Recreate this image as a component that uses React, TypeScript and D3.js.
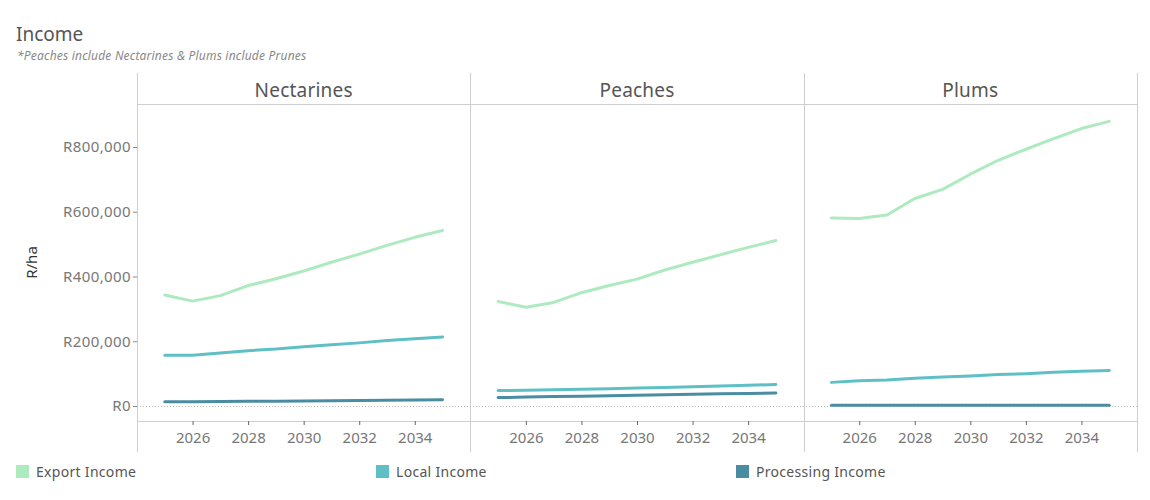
import React, { useEffect, useRef } from 'react';
import * as d3 from 'd3';

const years = [2025, 2026, 2027, 2028, 2029, 2030, 2031, 2032, 2033, 2034, 2035];
const fruits = ['Nectarines', 'Peaches', 'Plums'];
const seriesNames = ['Export Income', 'Local Income', 'Processing Income'];
const seriesColors = ['#aeeac0', '#5ec0c4', '#4a8ca2'];

const nectarinesExport = [343000, 324000, 341000, 372000, 393000, 417000, 444000, 469000, 496000, 521000, 542000];
const nectarinesLocal = [157000, 157000, 164000, 171000, 176000, 183000, 189000, 195000, 202000, 208000, 213000];
const nectarinesProcessing = [13000, 13500, 14000, 14500, 15000, 15800, 16500, 17200, 18000, 18800, 19600];

const peachesExport = [323000, 305000, 320000, 350000, 372000, 392000, 420000, 444000, 467000, 490000, 511000];
const peachesLocal = [48000, 48500, 50500, 52000, 53500, 55500, 57500, 59500, 61500, 64000, 66500];
const peachesProcessing = [26000, 27500, 29000, 30500, 32000, 33500, 35000, 36500, 38000, 39000, 40000];

const plumsExport = [581000, 579000, 590000, 641000, 669000, 716000, 759000, 793000, 826000, 857000, 879000];
const plumsLocal = [73000, 78000, 80000, 85500, 89500, 92500, 97000, 100000, 104000, 107000, 110000];
const plumsProcessing = [2000, 2000, 2000, 2000, 2000, 2000, 2000, 2000, 2000, 2000, 2000];

const panelData = [
  [nectarinesExport, nectarinesLocal, nectarinesProcessing],
  [peachesExport, peachesLocal, peachesProcessing],
  [plumsExport, plumsLocal, plumsProcessing],
];

const yTicks = [0, 200000, 400000, 600000, 800000];
const xTicks = [2026, 2028, 2030, 2032, 2034];

const FONT = '"Noto Sans", "Open Sans", sans-serif';

export default function App() {
  const svgRef = useRef<SVGSVGElement>(null);
  const width = 1150;
  const height = 500;

  useEffect(() => {
    if (!svgRef.current) return;
    const svg = d3.select(svgRef.current);
    svg.selectAll('*').remove();

    const left = 137;
    const right = 1137;
    const headerTop = 73;
    const plotTop = 104;
    const plotBottom = 421;
    const axisBottom = 452;
    const panelW = (right - left) / fruits.length;

    const y = d3.scaleLinear().domain([-46300, 932800]).range([plotBottom, plotTop]);

    // Title
    svg.append('text')
      .attr('x', 16).attr('y', 41)
      .attr('font-family', FONT).attr('font-size', 19)
      .attr('fill', '#555')
      .text('Income');
    svg.append('text')
      .attr('x', 17).attr('y', 60)
      .attr('font-family', FONT).attr('font-size', 12)
      .attr('font-style', 'italic')
      .attr('letter-spacing', 0.2)
      .attr('fill', '#888')
      .text('*Peaches include Nectarines & Plums include Prunes');

    // Frame lines
    const frame = svg.append('g').attr('stroke', '#cfcfcf').attr('stroke-width', 1);
    frame.append('line')
      .attr('x1', left).attr('x2', right)
      .attr('y1', plotTop + 0.5).attr('y2', plotTop + 0.5);
    frame.append('line')
      .attr('x1', left).attr('x2', right)
      .attr('y1', plotBottom + 0.5).attr('y2', plotBottom + 0.5);
    d3.range(fruits.length + 1).forEach(i => {
      const x = Math.round(left + i * panelW) + 0.5;
      frame.append('line')
        .attr('x1', x).attr('x2', x)
        .attr('y1', headerTop).attr('y2', axisBottom);
    });

    // Zero line
    svg.append('line')
      .attr('x1', left).attr('x2', right)
      .attr('y1', Math.round(y(0)) + 0.5).attr('y2', Math.round(y(0)) + 0.5)
      .attr('stroke', '#bbb')
      .attr('stroke-width', 1)
      .attr('stroke-dasharray', '1,2');

    // Y axis
    const yAxis = svg.append('g')
      .attr('transform', `translate(${left},0)`)
      .call(
        d3.axisLeft(y)
          .tickValues(yTicks)
          .tickSize(4)
          .tickPadding(2)
          .tickFormat(d => 'R' + d3.format(',')(d as number))
      );
    yAxis.select('.domain').remove();
    yAxis.selectAll('line').attr('stroke', '#888');
    yAxis.selectAll('text')
      .attr('font-family', FONT).attr('font-size', 15)
      .attr('letter-spacing', 0.4)
      .attr('fill', '#777');

    svg.append('text')
      .attr('transform', `translate(37,${(plotTop + plotBottom) / 2}) rotate(-90)`)
      .attr('text-anchor', 'middle')
      .attr('font-family', FONT).attr('font-size', 15)
      .attr('fill', '#333')
      .text('R/ha');

    // Panels
    fruits.forEach((fruit, i) => {
      const x0 = left + i * panelW;
      const x = d3.scaleLinear().domain([2024, 2036]).range([x0, x0 + panelW]);

      svg.append('text')
        .attr('x', x0 + panelW / 2).attr('y', 97)
        .attr('text-anchor', 'middle')
        .attr('font-family', FONT).attr('font-size', 19)
        .attr('letter-spacing', 0.2)
        .attr('fill', '#555')
        .text(fruit);

      const xAxis = svg.append('g')
        .attr('transform', `translate(0,${plotBottom})`)
        .call(
          d3.axisBottom(x)
            .tickValues(xTicks)
            .tickSize(4)
            .tickPadding(7)
            .tickFormat(d => String(d))
        );
      xAxis.select('.domain').remove();
      xAxis.selectAll('line').attr('stroke', '#666');
      xAxis.selectAll('text')
        .attr('font-family', FONT).attr('font-size', 15)
        .attr('fill', '#777');

      const line = d3.line<number>()
        .x((_, j) => x(years[j]))
        .y(d => y(d));

      panelData[i].forEach((values, s) => {
        svg.append('path')
          .datum(values)
          .attr('fill', 'none')
          .attr('stroke', seriesColors[s])
          .attr('stroke-width', 3)
          .attr('stroke-linejoin', 'round')
          .attr('stroke-linecap', 'round')
          .attr('d', line);
      });
    });

    // Legend
    const legendX = [16, 376, 736];
    seriesNames.forEach((name, i) => {
      const g = svg.append('g').attr('transform', `translate(${legendX[i]},464)`);
      g.append('rect')
        .attr('x', 0).attr('y', 1)
        .attr('width', 13).attr('height', 13)
        .attr('fill', seriesColors[i]);
      g.append('text')
        .attr('x', 20).attr('y', 13)
        .attr('font-family', FONT).attr('font-size', 14)
        .attr('letter-spacing', 0.3)
        .attr('fill', '#555')
        .text(name);
    });
  }, []);

  return (
    <div>
      <svg ref={svgRef} width={width} height={height} style={{ display: 'block', margin: -8 }} />
    </div>
  );
}
